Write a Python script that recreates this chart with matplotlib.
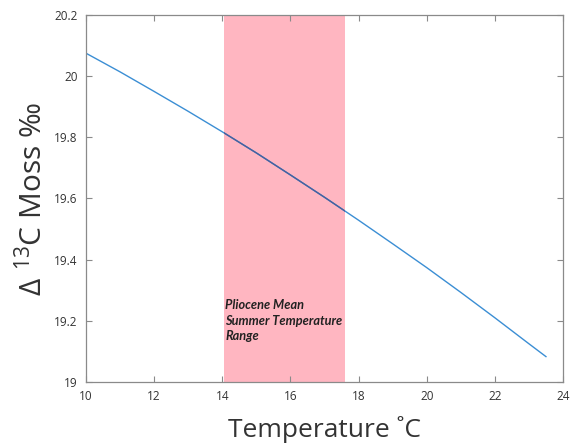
import matplotlib
matplotlib.use("Agg")
import matplotlib.pyplot as plt

temperature = [10, 11, 12, 13, 14, 15, 16, 17, 18, 19, 20, 21, 22, 23, 23.5]
delta13c = [20.075, 20.014, 19.950, 19.885, 19.818, 19.749, 19.677, 19.604,
             19.529, 19.452, 19.374, 19.293, 19.210, 19.125, 19.083]
band_range = [14.05, 17.6]
xticks = [10, 12, 14, 16, 18, 20, 22, 24]
yticks = [19, 19.2, 19.4, 19.6, 19.8, 20, 20.2]
ytick_labels = ["19", "19.2", "19.4", "19.6", "19.8", "20", "20.2"]

plt.rcParams['font.family'] = ['Open Sans', 'DejaVu Sans']
plt.rcParams['mathtext.fontset'] = 'custom'
plt.rcParams['mathtext.rm'] = 'Open Sans'
plt.rcParams['mathtext.it'] = 'Open Sans:italic'

fig = plt.figure(figsize=(5.7, 4.45), dpi=100)
ax = fig.add_axes([0.1509, 0.1416, 0.8368, 0.8247])

band = ax.axvspan(band_range[0], band_range[1], color='#ffb6c1', lw=0, zorder=0)
ax.plot(temperature, delta13c, color='#3b8ed4', lw=1.0, zorder=2)
inner, = ax.plot(temperature, delta13c, color='#4a5f9c', lw=1.0, zorder=3)
inner.set_clip_path(band)

ax.set_xlim(10, 24)
ax.set_ylim(19, 20.2)
ax.set_xticks(xticks)
ax.set_xticklabels([str(t) for t in xticks])
ax.set_yticks(yticks)
ax.set_yticklabels(ytick_labels)

for s in ax.spines.values():
    s.set_color('#8a8a8a')
    s.set_linewidth(0.9)
ax.tick_params(direction='in', length=4, width=0.8, color='#8a8a8a',
               labelsize=8.5, labelcolor='#333333', top=True, right=True, pad=6)

ax.set_xlabel('Temperature ˚C', fontsize=19, color='#333333', labelpad=9)
ax.set_ylabel(r'$\Delta\ ^{13}$C Moss ‰', fontsize=21.5, color='#333333', labelpad=4)

ax.text(14.09, 19.272, 'Pliocene Mean\nSummer Temperature\nRange', fontsize=9.2,
        fontweight='bold', fontstyle='italic', color='#222222', va='top', ha='left',
        linespacing=1.38, family=['Lato', 'DejaVu Sans'])

fig.savefig('out.png', dpi=100)
